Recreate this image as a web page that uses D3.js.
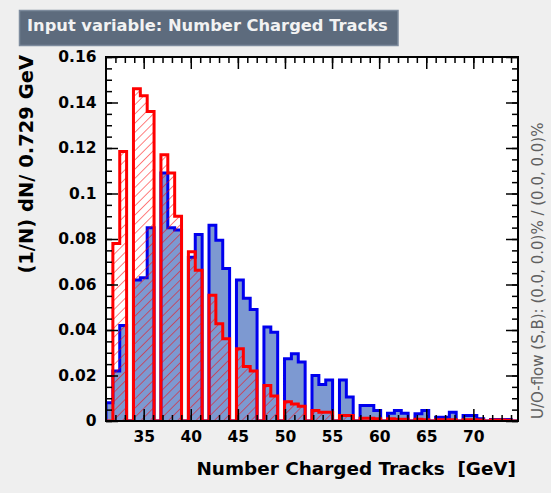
<!DOCTYPE html>
<html>
<head>
<meta charset="utf-8">
<script src="https://cdn.jsdelivr.net/npm/d3@7"></script>
<style>
  body { margin: 0; background: #efefef; }
  text { font-family: "DejaVu Sans", sans-serif; white-space: pre; }
</style>
</head>
<body>
<svg id="chart" width="551" height="493"></svg>
<script>
// Histogram binning of the "Number Charged Tracks" variable
const xMin = 31.0;
const binWidth = 0.729;

// Normalised bin contents (1/N dN per bin), 60 bins starting at xMin
const signal = [
  0.008, 0.022, 0.042, 0, 0.062, 0.063, 0.085, 0, 0.109, 0.085,
  0.084, 0, 0.072, 0.082, 0, 0.086, 0.0795, 0.067, 0, 0.062,
  0.054, 0.049, 0, 0.0413, 0.039, 0, 0.0274, 0.0296, 0.0259, 0,
  0.020, 0.016, 0.018, 0, 0.018, 0.0105, 0, 0.0068, 0.0068, 0.0046,
  0, 0.0034, 0.0046, 0.0034, 0, 0.0032, 0.0046, 0, 0.0017, 0.0017,
  0.0039, 0, 0.0024, 0.0024, 0.001, 0, 0.0007, 0.0007, 0.0007, 0
];
const background = [
  0, 0.078, 0.1185, 0, 0.146, 0.143, 0.136, 0, 0.117, 0.109,
  0.090, 0, 0.0744, 0.0663, 0, 0.0553, 0.0428, 0.0362, 0, 0.0318,
  0.024, 0.022, 0, 0.0156, 0.011, 0, 0.0085, 0.0075, 0.0065, 0,
  0.0046, 0.0039, 0.0039, 0, 0.0024, 0.0024, 0, 0.0012, 0.0012, 0.001,
  0, 0.001, 0.0008, 0.0008, 0, 0.0008, 0.0006, 0, 0.0006, 0.0006,
  0.0005, 0, 0.0005, 0.0005, 0.0004, 0, 0.0004, 0.0004, 0.0003, 0
];

// Axis ticks and labels
const xMajorTicks = [35, 40, 45, 50, 55, 60, 65, 70];
const xMinorTicks = d3.range(32, 75, 1);
const yMajorTicks = [0, 0.02, 0.04, 0.06, 0.08, 0.1, 0.12, 0.14, 0.16];
const yTickLabels = ["0", "0.02", "0.04", "0.06", "0.08", "0.1", "0.12", "0.14", "0.16"];
const yMinorTicks = d3.range(0, 0.1601, 0.005);

const titleText = "Input variable: Number Charged Tracks";
const xTitle = "Number Charged Tracks  [GeV]";
const yTitle = "(1/N) dN/ 0.729 GeV";
const flowText = "U/O-flow (S,B): (0.0, 0.0)% / (0.0, 0.0)%";

// Layout
const frame = { left: 106, right: 518, top: 57, bottom: 421 };
const xMax = xMin + binWidth * signal.length;

const svg = d3.select("#chart");
svg.append("rect").attr("width", 551).attr("height", 493).attr("fill", "#efefef");

const x = d3.scaleLinear().domain([xMin, xMax]).range([frame.left, frame.right]);
const y = d3.scaleLinear().domain([0, 0.16]).range([frame.bottom, frame.top]);

const defs = svg.append("defs");
defs.append("clipPath").attr("id", "frameClip")
  .append("rect")
  .attr("x", frame.left).attr("y", frame.top)
  .attr("width", frame.right - frame.left).attr("height", frame.bottom - frame.top);

// Diagonal red hatching for the background histogram
const hatch = defs.append("pattern")
  .attr("id", "hatch")
  .attr("patternUnits", "userSpaceOnUse")
  .attr("width", 6.5).attr("height", 10)
  .attr("patternTransform", "rotate(45)");
hatch.append("line")
  .attr("x1", 0).attr("y1", 0).attr("x2", 0).attr("y2", 10)
  .attr("stroke", "#ff0000").attr("stroke-width", 1);

// Plot frame background
svg.append("rect")
  .attr("x", frame.left).attr("y", frame.top)
  .attr("width", frame.right - frame.left).attr("height", frame.bottom - frame.top)
  .attr("fill", "#ffffff");

// Step outline of a histogram through the scales
function stepPath(values) {
  const pts = [[x(xMin), y(0)]];
  values.forEach((v, i) => {
    pts.push([x(xMin + i * binWidth), y(v)]);
    pts.push([x(xMin + (i + 1) * binWidth), y(v)]);
  });
  pts.push([x(xMax), y(0)]);
  return d3.line()(pts);
}

const plot = svg.append("g").attr("clip-path", "url(#frameClip)");

// Signal: filled blue
plot.append("path").attr("d", stepPath(signal) + "Z")
  .attr("fill", "#7d99d1").attr("stroke", "none");
plot.append("path").attr("d", stepPath(signal))
  .attr("fill", "none").attr("stroke", "#0000ee").attr("stroke-width", 3)
  .attr("stroke-linejoin", "miter");

// Background: red hatching
plot.append("path").attr("d", stepPath(background) + "Z")
  .attr("fill", "url(#hatch)").attr("stroke", "none");
plot.append("path").attr("d", stepPath(background))
  .attr("fill", "none").attr("stroke", "#ff0000").attr("stroke-width", 3)
  .attr("stroke-linejoin", "miter");

// Axes with inward ticks on all four sides
const tickStyle = g => {
  g.select(".domain").remove();
  g.selectAll(".tick line").attr("stroke", "#000").attr("stroke-width", 1.5);
};
const labelStyle = g => {
  g.selectAll(".tick text")
    .attr("fill", "#000")
    .style("font-family", "'DejaVu Sans', sans-serif")
    .style("font-weight", "bold")
    .style("font-size", "15.5px");
};

svg.append("g").attr("transform", `translate(0,${frame.bottom})`)
  .call(d3.axisBottom(x).tickValues(xMinorTicks).tickSize(-6).tickFormat(""))
  .call(tickStyle);
svg.append("g").attr("transform", `translate(0,${frame.bottom})`)
  .call(d3.axisBottom(x).tickValues(xMajorTicks).tickSize(-12).tickPadding(10).tickFormat(d3.format("d")))
  .call(tickStyle).call(labelStyle);

svg.append("g").attr("transform", `translate(0,${frame.top})`)
  .call(d3.axisTop(x).tickValues(xMinorTicks).tickSize(-6).tickFormat(""))
  .call(tickStyle);
svg.append("g").attr("transform", `translate(0,${frame.top})`)
  .call(d3.axisTop(x).tickValues(xMajorTicks).tickSize(-12).tickFormat(""))
  .call(tickStyle);

svg.append("g").attr("transform", `translate(${frame.left},0)`)
  .call(d3.axisLeft(y).tickValues(yMinorTicks).tickSize(-6).tickFormat(""))
  .call(tickStyle);
svg.append("g").attr("transform", `translate(${frame.left},0)`)
  .call(d3.axisLeft(y).tickValues(yMajorTicks).tickSize(-12).tickPadding(9.5)
    .tickFormat((d, i) => yTickLabels[i]))
  .call(tickStyle).call(labelStyle);

svg.append("g").attr("transform", `translate(${frame.right},0)`)
  .call(d3.axisRight(y).tickValues(yMinorTicks).tickSize(-6).tickFormat(""))
  .call(tickStyle);
svg.append("g").attr("transform", `translate(${frame.right},0)`)
  .call(d3.axisRight(y).tickValues(yMajorTicks).tickSize(-12).tickFormat(""))
  .call(tickStyle);

// Frame border
svg.append("rect")
  .attr("x", frame.left).attr("y", frame.top)
  .attr("width", frame.right - frame.left).attr("height", frame.bottom - frame.top)
  .attr("fill", "none").attr("stroke", "#000").attr("stroke-width", 2);

// Axis titles
svg.append("text")
  .attr("x", frame.right - 2).attr("y", 475)
  .attr("text-anchor", "end")
  .style("font-weight", "bold").style("font-size", "18.4px")
  .attr("fill", "#000")
  .text(xTitle);

svg.append("text")
  .attr("transform", `translate(33,${frame.top - 2}) rotate(-90)`)
  .attr("text-anchor", "end")
  .style("font-weight", "bold").style("font-size", "19.5px")
  .attr("fill", "#000")
  .text(yTitle);

// Under/overflow note on the right
svg.append("text")
  .attr("transform", `translate(543,${frame.bottom - 2}) rotate(-90)`)
  .attr("text-anchor", "start")
  .style("font-size", "15px")
  .attr("fill", "#606060")
  .text(flowText);

// Title box
svg.append("rect")
  .attr("x", 19.5).attr("y", 10.5).attr("width", 378.5).attr("height", 35)
  .attr("fill", "#5d6b7d").attr("stroke", "#7d8b9d").attr("stroke-width", 1.5);
svg.append("text")
  .attr("x", 27).attr("y", 31)
  .style("font-weight", "bold").style("font-size", "16.3px")
  .attr("fill", "#f2f2f2")
  .text(titleText);
</script>
</body>
</html>
